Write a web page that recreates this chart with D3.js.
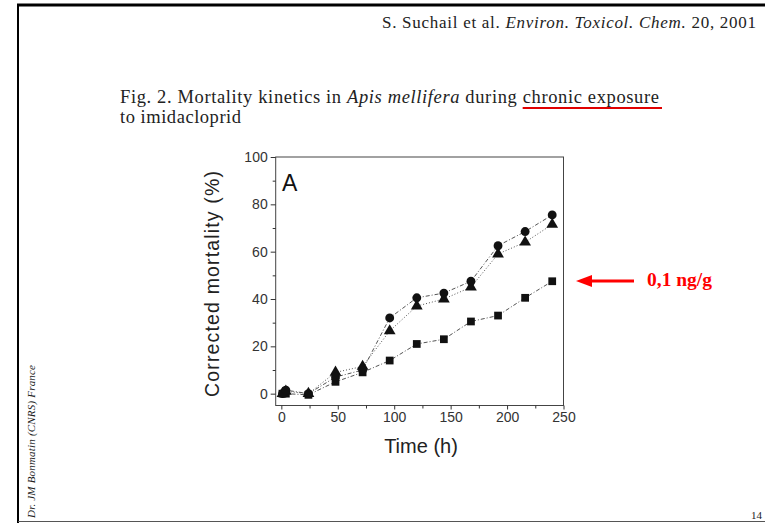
<!DOCTYPE html>
<html>
<head>
<meta charset="utf-8">
<script src="https://cdn.jsdelivr.net/npm/d3@7"></script>
<style>
  body { margin: 0; background: #fff; }
  svg { display: block; }
</style>
</head>
<body>
<svg id="chart"></svg>
<script>
// data
var times = [1, 4, 24, 48, 72, 96, 120, 144, 168, 192, 216, 240];
var circles = [0, 1.5, 0, 7, 10, 32, 40.5, 42.5, 47.5, 62.5, 68.5, 75.5];
var triangles = [0, 1, 0, 9, 11.5, 26.5, 37, 40, 45, 59, 64, 71.5];
var squares = [0, 0, -0.5, 5, 9, 14, 21, 23, 30.5, 33, 40.5, 47.5];
var xTicks = [0, 50, 100, 150, 200, 250];
var yTicks = [0, 20, 40, 60, 80, 100];

var svgWidth = 765, svgHeight = 523;
var svg = d3.select('#chart').attr('width', svgWidth).attr('height', svgHeight);

// page frame
svg.append('line').attr('x1', 17).attr('x2', 765).attr('y1', 5).attr('y2', 5)
    .attr('stroke', '#000').attr('stroke-width', 3);
svg.append('line').attr('x1', 18).attr('x2', 18).attr('y1', 4).attr('y2', 523)
    .attr('stroke', '#000').attr('stroke-width', 2);
svg.append('line').attr('x1', 18).attr('x2', 765).attr('y1', 521.5).attr('y2', 521.5)
    .attr('stroke', '#555').attr('stroke-width', 1);

// header
var head = svg.append('text').attr('x', 382).attr('y', 28)
    .attr('textLength', 374).attr('lengthAdjust', 'spacing')
    .style('font-family', 'Liberation Serif').style('font-size', '17px').attr('fill', '#222');
head.append('tspan').text('S. Suchail et al.   ');
head.append('tspan').style('font-style', 'italic').text('Environ. Toxicol. Chem.');
head.append('tspan').text(' 20, 2001');

// caption
var cap = svg.append('text').attr('x', 120).attr('y', 103)
    .attr('textLength', 539).attr('lengthAdjust', 'spacing')
    .style('font-family', 'Liberation Serif').style('font-size', '18.5px').attr('fill', '#222');
cap.append('tspan').text('Fig. 2. Mortality kinetics in ');
cap.append('tspan').style('font-style', 'italic').text('Apis mellifera');
cap.append('tspan').text(' during ');
cap.append('tspan').attr('id', 'chronic').text('chronic exposure');
svg.append('text').attr('x', 120).attr('y', 123)
    .attr('textLength', 121).attr('lengthAdjust', 'spacing')
    .style('font-family', 'Liberation Serif').style('font-size', '18.5px').attr('fill', '#222')
    .text('to imidacloprid');
var cb = document.getElementById('chronic');
var start = cb.getStartPositionOfChar(0).x;
var end = cb.getEndPositionOfChar(cb.getNumberOfChars() - 1).x;
svg.append('line').attr('x1', start).attr('x2', end + 3).attr('y1', 108).attr('y2', 108)
    .attr('stroke', '#e00000').attr('stroke-width', 2);

// side credit
svg.append('text').attr('transform', 'translate(35,518) rotate(-90)')
    .attr('textLength', 153).attr('lengthAdjust', 'spacing')
    .style('font-family', 'Liberation Serif').style('font-style', 'italic').style('font-size', '11px')
    .attr('fill', '#222').text('Dr. JM Bonmatin (CNRS) France');
svg.append('text').attr('x', 751).attr('y', 519).style('font-family', 'Liberation Serif')
    .style('font-size', '11px').attr('fill', '#222').text('14');

// plot
var x = d3.scaleLinear().domain([-5, 250]).range([275.7, 563.5]);
var y = d3.scaleLinear().domain([-5, 100]).range([405.5, 157]);
var g = svg.append('g');

g.append('rect').attr('x', x(-5)).attr('y', y(100)).attr('width', x(250) - x(-5))
    .attr('height', y(-5) - y(100)).attr('fill', 'none').attr('stroke', '#444').attr('stroke-width', 1);

var xAxis = d3.axisBottom(x).tickValues(xTicks).tickSize(4).tickPadding(3);
var xMinor = d3.axisBottom(x).tickValues([25, 75, 125, 175, 225]).tickSize(3).tickFormat('');
var yAxis = d3.axisLeft(y).tickValues(yTicks).tickSize(5).tickPadding(3);
var yMinor = d3.axisLeft(y).tickValues([10, 30, 50, 70, 90]).tickSize(3).tickFormat('');

function styleAxis(sel) {
    sel.select('.domain').remove();
    sel.selectAll('line').attr('stroke', '#333');
    sel.selectAll('text').style('font-family', 'Liberation Sans').style('font-size', '14px').attr('fill', '#333');
}
g.append('g').attr('transform', 'translate(0,' + y(-5) + ')').call(xAxis).call(styleAxis);
g.append('g').attr('transform', 'translate(0,' + y(-5) + ')').call(xMinor).call(styleAxis);
g.append('g').attr('transform', 'translate(' + x(-5) + ',0)').call(yAxis).call(styleAxis);
g.append('g').attr('transform', 'translate(' + x(-5) + ',0)').call(yMinor).call(styleAxis);

var series = [
    { name: 'sq', values: squares, dash: '4,2,1,2' },
    { name: 'tri', values: triangles, dash: '1,2' },
    { name: 'circ', values: circles, dash: '4,2,1,2' }
];
var line = d3.line().x(function (d) { return x(d[0]); }).y(function (d) { return y(d[1]); });

series.forEach(function (s) {
    var pts = times.map(function (t, i) { return [t, s.values[i]]; });
    g.append('path').datum(pts).attr('d', line).attr('fill', 'none')
        .attr('stroke', '#555').attr('stroke-width', 1).attr('stroke-dasharray', s.dash);
});

var symbols = { sq: d3.symbolSquare, tri: d3.symbolTriangle, circ: d3.symbolCircle };
var sizes = { sq: 60, tri: 60, circ: 62 };
series.forEach(function (s) {
    g.selectAll('.m-' + s.name).data(times.map(function (t, i) { return [t, s.values[i]]; }))
        .enter().append('path').attr('class', 'm-' + s.name)
        .attr('d', d3.symbol().type(symbols[s.name]).size(sizes[s.name]))
        .attr('transform', function (d) { return 'translate(' + x(d[0]) + ',' + y(d[1]) + ')'; })
        .attr('fill', '#111');
});

g.append('text').attr('x', 282).attr('y', 191).style('font-family', 'Liberation Sans')
    .style('font-size', '23px').attr('fill', '#111').text('A');

g.append('text').attr('transform', 'translate(219,' + 284 + ') rotate(-90)').attr('text-anchor', 'middle')
    .attr('textLength', 226).attr('lengthAdjust', 'spacing')
    .style('font-family', 'Liberation Sans').style('font-size', '19.5px').attr('fill', '#222')
    .text('Corrected mortality (%)');
g.append('text').attr('x', 421).attr('y', 453).attr('text-anchor', 'middle')
    .style('font-family', 'Liberation Sans').style('font-size', '20px').attr('fill', '#222')
    .text('Time (h)');

// annotation arrow
svg.append('line').attr('x1', 634).attr('x2', 590).attr('y1', 281).attr('y2', 281)
    .attr('stroke', '#f00').attr('stroke-width', 3);
svg.append('path').attr('d', 'M576,281 L592,275 L592,287 Z').attr('fill', '#f00');
svg.append('text').attr('x', 647).attr('y', 286).style('font-family', 'Liberation Serif')
    .style('font-weight', 'bold').style('font-size', '19.5px').attr('fill', '#f00').text('0,1 ng/g');
</script>
</body>
</html>
